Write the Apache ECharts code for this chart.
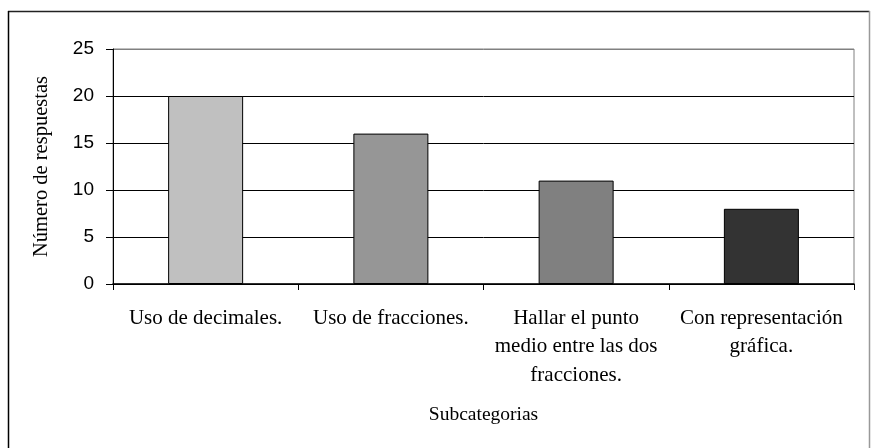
<!DOCTYPE html>
<html>
<head>
<meta charset="utf-8">
<script src="https://cdn.jsdelivr.net/npm/echarts@6/dist/echarts.min.js"></script>
<style>
html,body{margin:0;padding:0;background:#fff;}
#chart{width:871px;height:448px;}
</style>
</head>
<body>
<div id="chart"></div>
<script>
const categories = ["Uso de decimales.", "Uso de fracciones.", "Hallar el punto\nmedio entre las dos\nfracciones.", "Con representación\ngráfica."];
const values = [20, 16, 11, 8];
const barColors = ["#C0C0C0", "#969696", "#808080", "#333333"];
const yTicks = [0, 5, 10, 15, 20, 25];
const xTitle = "Subcategorias";
const yTitle = "Número de respuestas";

const chart = echarts.init(document.getElementById('chart'), null, {renderer: 'canvas'});
const serif = "'Liberation Serif', 'Times New Roman', serif";
const sans = "'Liberation Sans', Arial, sans-serif";

chart.setOption({
  animation: false,
  backgroundColor: '#fff',
  grid: {left: 113, right: 17, top: 49, bottom: 164, show: true, borderColor: '#808080', borderWidth: 1, backgroundColor: 'transparent'},
  xAxis: {
    type: 'category',
    data: categories,
    name: xTitle,
    nameLocation: 'middle',
    nameGap: 121,
    nameTextStyle: {fontFamily: serif, fontSize: 19.5, color: '#000'},
    axisLine: {show: true, lineStyle: {color: '#000', width: 1.5}},
    axisTick: {show: true, length: 6, alignWithLabel: false, lineStyle: {color: '#000'}},
    axisLabel: {fontFamily: serif, fontSize: 21, color: '#000', margin: 20, lineHeight: 28.5, interval: 0, align: 'center'},
    splitLine: {show: false}
  },
  yAxis: {
    type: 'value',
    min: yTicks[0],
    max: yTicks[yTicks.length - 1],
    interval: yTicks[1] - yTicks[0],
    name: yTitle,
    nameLocation: 'middle',
    nameGap: 61,
    nameRotate: 90,
    nameTextStyle: {fontFamily: serif, fontSize: 20.5, color: '#000'},
    axisLine: {show: true, lineStyle: {color: '#000', width: 1}},
    axisTick: {show: true, length: 7, lineStyle: {color: '#000'}},
    axisLabel: {fontFamily: sans, fontSize: 19, color: '#000', margin: 19},
    splitLine: {show: true, lineStyle: {color: ['#000', '#000', '#000', '#000', '#000', '#808080'], width: 1}}
  },
  series: [{
    type: 'bar',
    barWidth: 75,
    data: values.map((v, i) => ({value: v, itemStyle: {color: barColors[i]}})),
    itemStyle: {borderColor: '#000', borderWidth: 1}
  }],
  graphic: [
    {type: 'line', shape: {x1: 8, y1: 11.5, x2: 869.5, y2: 11.5}, style: {stroke: '#222', lineWidth: 1.5}, silent: true},
    {type: 'line', shape: {x1: 8.5, y1: 11, x2: 8.5, y2: 448}, style: {stroke: '#000', lineWidth: 1.5}, silent: true},
    {type: 'line', shape: {x1: 869.5, y1: 11, x2: 869.5, y2: 448}, style: {stroke: '#999', lineWidth: 1.5}, silent: true}
  ]
});
</script>
</body>
</html>
